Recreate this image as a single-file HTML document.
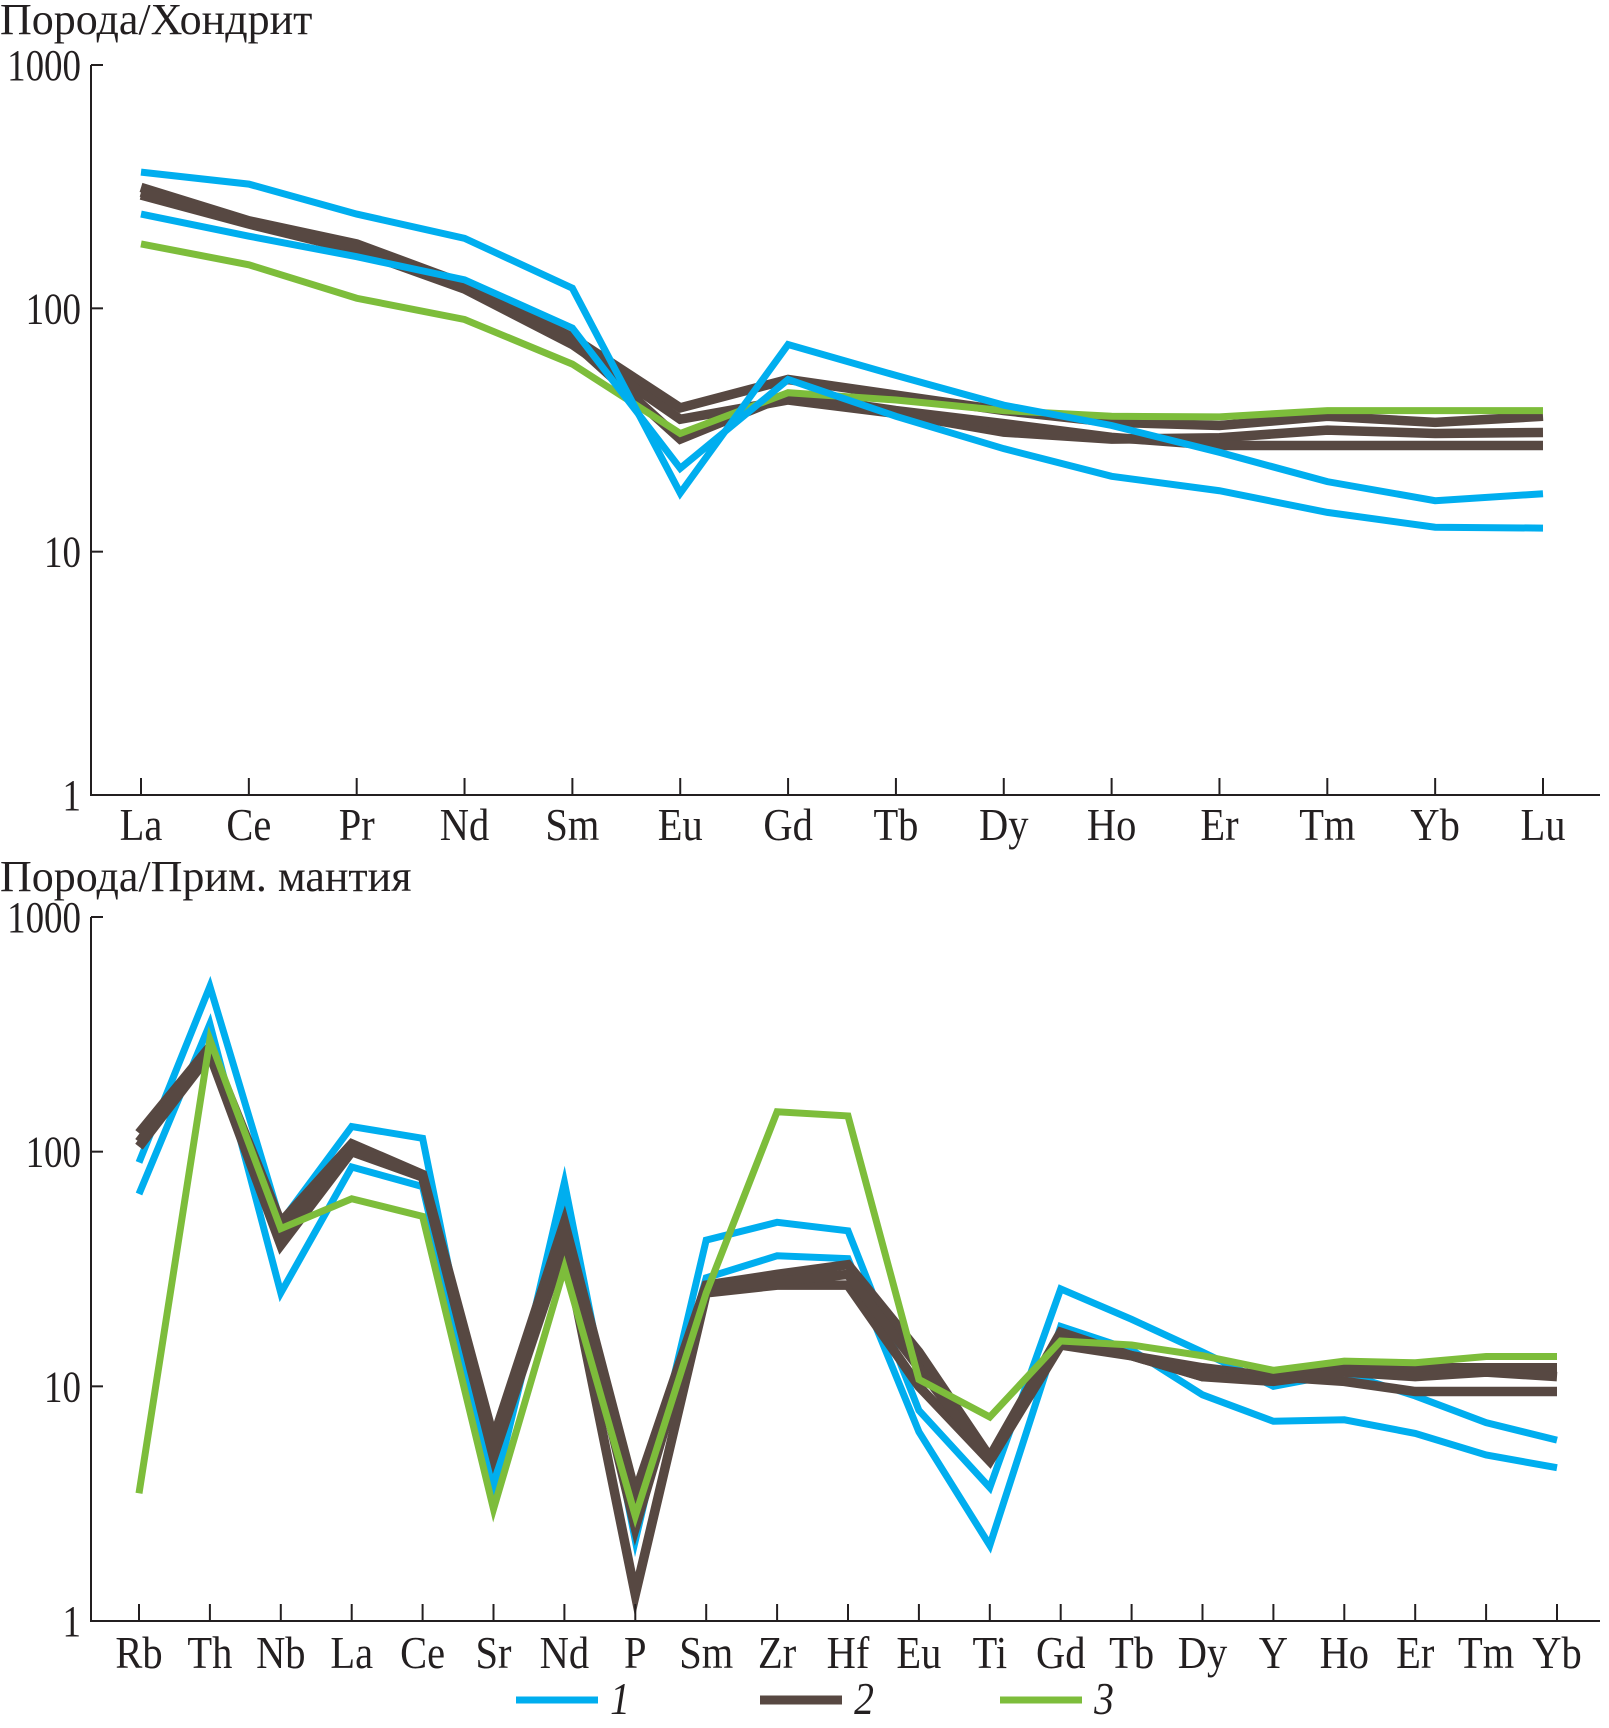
<!DOCTYPE html>
<html><head><meta charset="utf-8"><style>
html,body{margin:0;padding:0;background:#fff;}
svg{display:block;}
text{font-family:"Liberation Serif","Noto Serif CJK SC",serif;fill:#231f20;}
</style></head><body>
<svg id="chart" width="1609" height="1728" viewBox="0 0 1609 1728" xmlns="http://www.w3.org/2000/svg"></svg>
<script>
// ---------- Data ----------
const reeElements = ["La","Ce","Pr","Nd","Sm","Eu","Gd","Tb","Dy","Ho","Er","Tm","Yb","Lu"];
const reeBlueA = [363,324,244,194,121,17.4,71,53,40,33,25.6,19.4,16.2,17.3];
const reeBlueB = [244,198,163,131,83,22,51,36,26.5,20.4,17.8,14.5,12.6,12.5];
const reeBrownA = [314,229,184,126,76,39,51,44,38,34,33,36,34,36];
const reeBrownB = [292,222,173,120,71,35,42,37,31,29,29.4,31.6,30.6,30.9];
const reeBrownC = [300,225,178,122,73,29,44,38,33.6,29.5,27.3,27.3,27.3,27.3];
const reeGreen = [184,151,110,90,59,30.6,45,42,38,36,35.8,38,38,38];

const pmElements = ["Rb","Th","Nb","La","Ce","Sr","Nd","P","Sm","Zr","Hf","Eu","Ti","Gd","Tb","Dy","Y","Ho","Er","Tm","Yb"];
const pmBlueA = [90,506,50,128,114,3.7,74,2.2,42,50,46,7.9,3.7,26,19.3,14,10,11.4,9.1,7,5.9];
const pmBlueB = [66,350,25,86,71,3.5,62,2.5,29,36,35,6.4,2.1,18,14.3,9.2,7.1,7.2,6.3,5.1,4.5];
const pmBrownA = [120,280,50,108,80,6,50,3.5,27,30,33,14,5,17,13.5,11,11.5,12,12,12,12];
const pmBrownB = [105,260,40,100,78,5,40,1.3,25,27,27,10,4.8,15,13.5,12,11,10.5,9.5,9.5,9.5];
const pmBrownC = [110,270,45,104,79,5.5,45,2.5,26,28,30,12,4.9,16,13.5,11,10.5,11.5,11,11.5,11];
const pmGreen = [3.5,300,47,63,53,3.0,32,2.8,25,148,142,10.7,7.4,15.6,15,13.5,11.7,12.8,12.6,13.4,13.4];

const yTickValues = [1,10,100,1000];
const yTickLabels = ["1","10","100","1000"];
const legendLabels = ["1","2","3"];

const BLUE="#00aeef", BROWN="#574842", GREEN="#7dbd3b";
const NS="http://www.w3.org/2000/svg";
const svg=document.getElementById('chart');
function el(tag,attrs,parent){const e=document.createElementNS(NS,tag);for(const k in attrs)e.setAttribute(k,attrs[k]);(parent||svg).appendChild(e);return e;}
function txt(s,x,y,anchor,size,parent,italic,sx){
  const g=el('g',{transform:`translate(${x},${y}) scale(${sx||0.86},1)`},parent);
  const t=el('text',{x:0,y:0,'text-anchor':anchor,'font-size':size},g);
  if(italic)t.setAttribute('font-style','italic');
  t.textContent=s;return t;
}

function panel(cfg){
  const g=el('g',{});
  
  
  const yS=v=>cfg.y1-(Math.log10(v))*(cfg.y1-cfg.y1000)/3;
  const xS=i=>cfg.x0+i*cfg.dx;
  cfg.series.forEach(s=>{
    const p=el('polyline',{points:s.data.map((v,i)=>xS(i)+','+yS(v)).join(' '),fill:'none',stroke:s.color,'stroke-width':s.w,'stroke-linejoin':'miter','stroke-miterlimit':10},g);
    
    
  });
  const ax=el('path',{d:`M${cfg.ax},${cfg.y1000} V${cfg.y1} H1600`,stroke:'#231f20','stroke-width':2,fill:'none'},g);
  
  
  yTickValues.forEach((v,i)=>{
    const y=yS(v);
    el('line',{x1:cfg.ax,x2:cfg.ax+12,y1:y,y2:y,stroke:'#231f20','stroke-width':2},g);
    const t=txt(yTickLabels[i],cfg.ax-10,y+15,'end',44,g,false,0.84);
    
    
  });
  cfg.cats.forEach((c,i)=>{
    const x=xS(i);
    el('line',{x1:x,x2:x,y1:cfg.y1,y2:cfg.y1-17,stroke:'#231f20','stroke-width':2},g);
    const t=txt(c,x,cfg.labelY,'middle',46,g,false,0.88);
    
    
  });
  const tt=txt(cfg.title,0,cfg.titleY,'start',44,g,false,1.0);
  
  
}

panel({name:'chondrite-panel',ax:91,y1000:65,y1:795,x0:141,dx:(1543-141)/13,cats:reeElements,labelY:840,title:'Порода/Хондрит',titleY:34,
  series:[
    {name:'ree-brown-a',data:reeBrownA,color:BROWN,w:9.5},
    {name:'ree-brown-b',data:reeBrownB,color:BROWN,w:9.5},
    {name:'ree-brown-c',data:reeBrownC,color:BROWN,w:9.5},
    {name:'ree-green',data:reeGreen,color:GREEN,w:7},
    {name:'ree-blue-a',data:reeBlueA,color:BLUE,w:7},
    {name:'ree-blue-b',data:reeBlueB,color:BLUE,w:7}]});

panel({name:'mantle-panel',ax:91,y1000:917,y1:1621,x0:139,dx:(1557-139)/20,cats:pmElements,labelY:1668,title:'Порода/Прим. мантия',titleY:891,
  series:[
    {name:'pm-blue-a',data:pmBlueA,color:BLUE,w:7},
    {name:'pm-blue-b',data:pmBlueB,color:BLUE,w:7},
    {name:'pm-brown-a',data:pmBrownA,color:BROWN,w:9.5},
    {name:'pm-brown-b',data:pmBrownB,color:BROWN,w:9.5},
    {name:'pm-brown-c',data:pmBrownC,color:BROWN,w:9.5},
    {name:'pm-green',data:pmGreen,color:GREEN,w:7}]});

const lg=el('g',{});


const legendColors=[BLUE,BROWN,GREEN];
const legendX=[516,760,1000];
legendLabels.forEach((l,i)=>{
  const ln=el('line',{x1:legendX[i],x2:legendX[i]+82,y1:1700,y2:1700,stroke:legendColors[i],'stroke-width':i==1?9:7},lg);
  
  
  const t=txt(l,legendX[i]+104,1714,'middle',46,lg,true);
  
  
});
</script>
</body></html>
